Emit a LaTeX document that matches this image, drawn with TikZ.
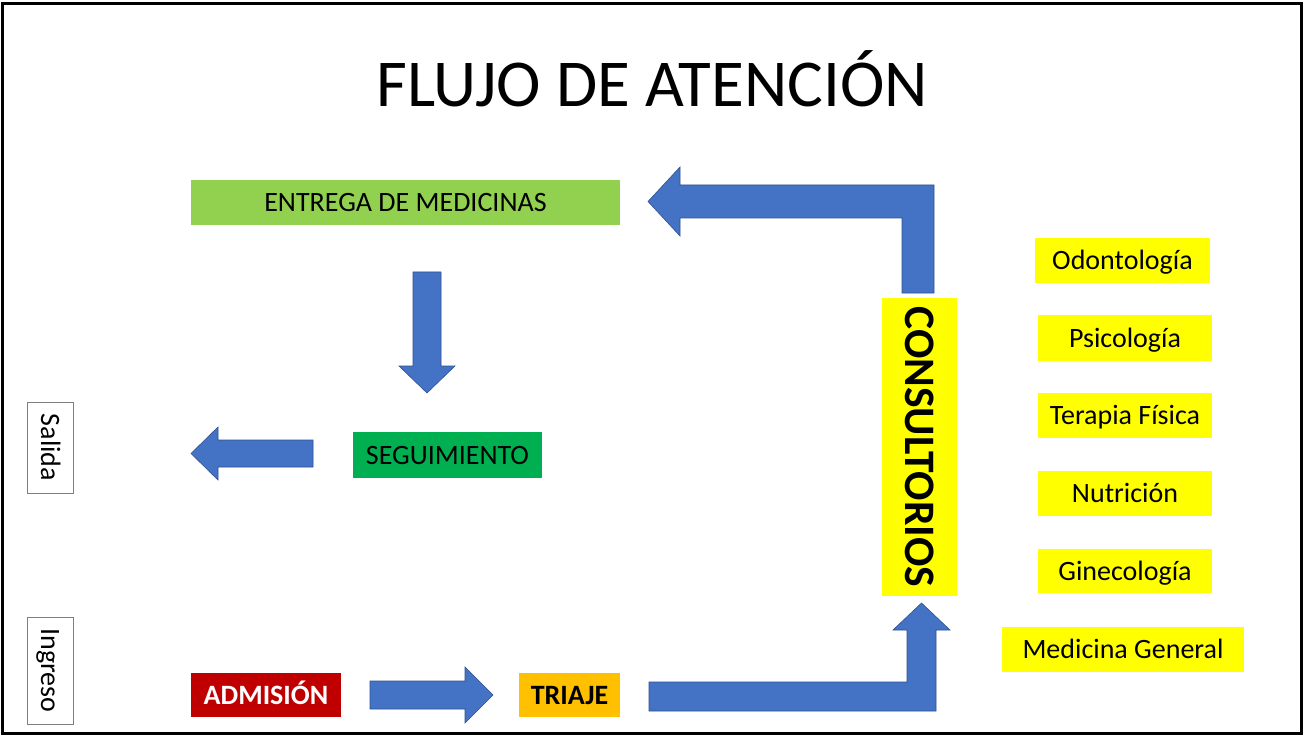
\documentclass[tikz,border=0pt]{standalone}
\usepackage{fontspec}
\setmainfont{Carlito}
\definecolor{arrowfill}{HTML}{4472C4}
\definecolor{arrowline}{HTML}{2F528F}
\definecolor{lgreen}{HTML}{92D050}
\definecolor{dgreen}{HTML}{00B050}
\definecolor{dred}{HTML}{C00000}
\definecolor{amber}{HTML}{FFC000}
\definecolor{yel}{HTML}{FFFF00}
\definecolor{lbgray}{RGB}{127,127,127}
\tikzset{
  box/.style={rectangle, inner sep=0pt, text height=20pt, text depth=2pt,
    font=\fontsize{28}{34}\selectfont, text=black},
  sidebox/.style={box, draw=lbgray, line width=0.8pt, fill=white, rotate=-90},
  blockarrow/.style={fill=arrowfill, draw=arrowline, line width=0.6pt, line join=miter},
}
\begin{document}
\begin{tikzpicture}[x=1pt,y=-1pt]
\useasboundingbox (0,0) rectangle (1303,735);
\fill[white] (0,0) rectangle (1303,735);
\draw[line width=3pt] (2.5,4) rectangle (1301,733);

\node[font=\fontsize{67}{78}\selectfont, inner sep=0pt, anchor=base] (title) at (652,107) {FLUJO DE ATENCIÓN};

% boxes
\node[box, fill=lgreen, minimum width=429, minimum height=45] (entrega) at (405.5,202.5) {ENTREGA DE MEDICINAS};
\node[box, fill=dgreen, minimum width=189, minimum height=46] (seguimiento) at (447.5,455) {SEGUIMIENTO};
\node[sidebox, minimum width=91, minimum height=46] (salida) at (50,447.5) {Salida};
\node[sidebox, minimum width=107, minimum height=46] (ingreso) at (50,670.5) {Ingreso};
\node[box, fill=dred, text=white, font=\fontsize{28}{34}\selectfont\bfseries, minimum width=150, minimum height=44] (admision) at (266,695) {ADMISIÓN};
\node[box, fill=amber, font=\fontsize{28}{34}\selectfont\bfseries, minimum width=101, minimum height=44] (triaje) at (569.5,695) {TRIAJE};
\node[box, fill=yel, rotate=-90, text height=28pt, text depth=0pt, font=\fontsize{43.5}{50}\selectfont\bfseries, minimum width=298, minimum height=75] (consultorios) at (919.5,447) {CONSULTORIOS};

\node[box, fill=yel, minimum width=175, minimum height=45] (odonto) at (1122.5,260.5) {Odontología};
\node[box, fill=yel, minimum width=174, minimum height=46] (psico) at (1125,338) {Psicología};
\node[box, fill=yel, minimum width=174, minimum height=45] (terapia) at (1125,415.5) {Terapia Física};
\node[box, fill=yel, minimum width=174, minimum height=45] (nutri) at (1125,493.5) {Nutrición};
\node[box, fill=yel, minimum width=174, minimum height=44] (gineco) at (1125,571) {Ginecología};
\node[box, fill=yel, minimum width=242, minimum height=45] (medgen) at (1123,649.5) {Medicina General};

% block arrows
% consultorios -> entrega
\draw[blockarrow] (934,293) -- (934,185) -- (680,185) -- (680,167) -- (648,201.5) -- (680,236) -- (680,218) -- (902,218) -- (902,293) -- cycle;
% entrega -> seguimiento
\draw[blockarrow] (413,272) -- (441,272) -- (441,366) -- (455,366) -- (427,393) -- (399,366) -- (413,366) -- cycle;
% seguimiento -> salida
\draw[blockarrow] (313,440) -- (218,440) -- (218,427) -- (191,453.5) -- (218,480) -- (218,467) -- (313,467) -- cycle;
% admision -> triaje
\draw[blockarrow] (370,681) -- (465,681) -- (465,667) -- (493,695) -- (465,723) -- (465,709) -- (370,709) -- cycle;
% triaje -> consultorios
\draw[blockarrow] (649,682) -- (907,682) -- (907,630) -- (893,630) -- (921.5,603) -- (950,630) -- (936,630) -- (936,711) -- (649,711) -- cycle;
\end{tikzpicture}
\end{document}
